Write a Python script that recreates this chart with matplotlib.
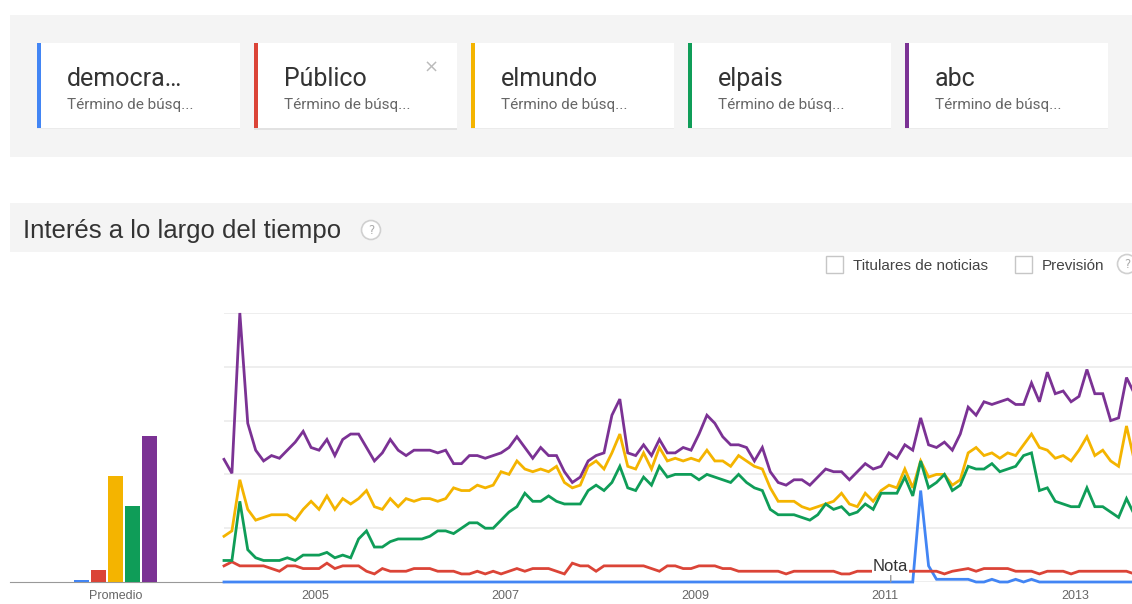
import numpy as np
import matplotlib
matplotlib.use("Agg")
import matplotlib.pyplot as plt
from matplotlib.patches import Rectangle, Circle

# search terms and colours
terms = ["democra…", "Público", "elmundo", "elpais", "abc"]
colors = ["#4285f4", "#db4437", "#f4b400", "#0f9d58", "#7b3294"]
subtitle = "Término de búsq..."

# averages (Promedio)
averages = [0.6, 4.5, 39.4, 28.3, 54.3]

# monthly interest, Jan 2004 onwards
democra = [0] * 88 + [34, 6, 1, 1, 1, 1, 1, 0, 0, 1, 0, 0, 1, 0, 1, 0] + [0] * 12
publico = [6, 7.5, 6, 6, 6, 6, 5, 4, 6, 6, 5, 5, 5, 7, 5, 6, 6, 6, 4, 3, 5, 4, 4, 4,
           5, 5, 5, 4, 4, 4, 3, 3, 4, 3, 4, 3, 4, 5, 4, 5, 5, 5, 4, 3, 7, 6, 6, 4,
           6, 6, 6, 6, 6, 6, 5, 4, 6, 6, 5, 5, 6, 6, 6, 5, 5, 4, 4, 4, 4, 4, 4, 3,
           4, 4, 4, 4, 4, 4, 3, 3, 4, 4, 4, 4, 4, 4, 4, 4, 4, 4, 4, 3, 4, 4.5, 5, 4,
           5, 5, 5, 5, 4, 4, 4, 3, 4, 4, 4, 3, 4, 4, 4, 4, 4, 4, 4, 3]
elmundo = [17, 19, 38, 27, 23, 24, 25, 25, 25, 23, 27, 30, 27, 32, 27, 31, 29, 31, 34, 28, 27, 31, 28, 31,
           30, 31, 31, 30, 31, 35, 34, 34, 36, 35, 36, 41, 40, 45, 42, 41, 42, 41, 43, 37, 35, 36, 43, 45,
           42, 48, 55, 43, 42, 48, 42, 50, 45, 46, 45, 46, 45, 49, 45, 45, 43, 47, 45, 43, 42, 35, 30, 30,
           30, 28, 27, 28, 29, 30, 33, 29, 28, 33, 30, 34, 36, 35, 42, 35, 45, 39, 40, 40, 36, 38, 48, 50,
           47, 48, 46, 48, 47, 51, 55, 50, 49, 46, 47, 45, 49, 54, 47, 49, 45, 43, 58, 45]
elpais = [8, 8, 30, 12, 9, 8, 8, 8, 9, 8, 10, 10, 10, 11, 9, 10, 9, 16, 19, 13, 13, 15, 16, 16,
          16, 16, 17, 19, 19, 18, 20, 22, 22, 20, 20, 23, 26, 28, 33, 30, 30, 32, 30, 29, 29, 29, 34, 36,
          34, 37, 43, 35, 34, 39, 36, 43, 39, 40, 40, 40, 38, 40, 39, 38, 37, 40, 37, 35, 34, 27, 25, 25,
          25, 24, 23, 25, 29, 27, 28, 25, 26, 29, 27, 33, 33, 33, 39, 32, 45, 35, 37, 40, 34, 36, 43, 42,
          42, 44, 41, 42, 43, 47, 48, 34, 35, 30, 29, 28, 28, 35, 28, 28, 26, 24, 31, 25]
abc = [45.6, 40.4, 100, 59, 49, 45, 47, 46, 49, 52, 56, 50, 49, 53, 47, 53, 55, 55, 50, 45, 48, 53, 49, 47,
       49, 49, 49, 48, 49, 44, 44, 47, 47, 46, 47, 48, 50, 54, 50, 46, 50, 47, 47, 41, 37, 39, 45, 47,
       48, 62, 68, 48, 47, 51, 47, 53, 48, 48, 50, 49, 55, 62, 59, 54, 51, 51, 50, 45, 50, 41, 37, 36,
       38, 38, 36, 39, 42, 41, 41, 38, 41, 44, 42, 43, 48, 46, 51, 49, 61, 51, 50, 52, 49, 55, 65, 62,
       67, 66, 67, 68, 66, 66, 74, 67, 78, 70, 71, 67, 69, 79, 70, 70, 60, 61, 76, 70]
series = [democra, publico, elmundo, elpais, abc]

years = [2005, 2007, 2009, 2011, 2013]
months = 2004 + (np.arange(len(abc)) + 0.5) / 12

W, H = 1132, 604
fig = plt.figure(figsize=(W / 100, H / 100), dpi=100)

# page furniture drawn in pixel coordinates
bg = fig.add_axes([0, 0, 1, 1])
bg.set_xlim(0, W)
bg.set_ylim(H, 0)
bg.axis("off")

bg.add_patch(Rectangle((10, 15), W - 10, 142, color="#f4f4f4", lw=0))
for k, (term, col) in enumerate(zip(terms, colors)):
    left = 37 + k * 217
    off = 1.5 if k == 1 else 1.0
    bg.add_patch(Rectangle((left, 43 + off), 203, 85, color="#e2e2e2" if k == 1 else "#ebebeb", lw=0))
    bg.add_patch(Rectangle((left, 43), 203, 85, color="white", lw=0))
    bg.add_patch(Rectangle((left, 43), 4, 85, color=col, lw=0))
    bg.text(left + 30, 79, term, fontsize=18, family="Roboto", color="#333333", va="center")
    bg.text(left + 30, 104.5, subtitle, fontsize=11, family="Roboto", color="#666666", va="center")
    if k == 1:
        bg.text(left + 177, 68, "×", fontsize=13, color="#bbbbbb", ha="center", va="center")

bg.add_patch(Rectangle((10, 203), W - 10, 49, color="#f4f4f4", lw=0))
bg.text(23, 231, "Interés a lo largo del tiempo", fontsize=18.5, family="Liberation Sans",
        color="#333333", va="center")


def help_icon(x, y):
    bg.add_patch(Circle((x, y), 9.5, facecolor="white", edgecolor="#d0d0d0", lw=1.2))
    bg.text(x, y + 0.5, "?", fontsize=8.5, color="#aaaaaa", ha="center", va="center")


help_icon(371, 230)
for bx, label in [(826, "Titulares de noticias"), (1015, "Previsión")]:
    bg.add_patch(Rectangle((bx, 256), 17, 17, facecolor="white", edgecolor="#c6c6c6", lw=1))
    bg.text(bx + 27, 265.5, label, fontsize=11, family="Liberation Sans", color="#444444", va="center")
help_icon(1127, 264)

# average bars
axb = fig.add_axes([10 / W, (H - 582) / H, 214 / W, 269 / H])
axb.set_facecolor("none")
pos = np.arange(len(averages))
axb.bar(pos, averages, width=0.88, color=colors, zorder=3)
axb.set_xlim(2 - 6.206, 2 - 6.206 + 214 / 17)
axb.set_ylim(0, 100)
for s in ["top", "right", "left"]:
    axb.spines[s].set_visible(False)
axb.spines["bottom"].set_color("#999999")
axb.set_yticks([])
axb.set_xticks([2])
axb.set_xticklabels(["Promedio"], fontsize=9, color="#666666", family="Liberation Sans")
axb.tick_params(axis="x", length=0, pad=6)

# interest over time
ax = fig.add_axes([224 / W, (H - 582) / H, 908 / W, 269 / H])
ax.set_facecolor("none")
x0 = months[0]
ax.set_xlim(x0, x0 + 908 / 95)
ax.set_ylim(0, 100)
ax.set_yticks([0, 20, 40, 60, 80, 100])
ax.set_yticklabels([])
ax.grid(axis="y", color="#ebebeb", lw=1.2)
ax.tick_params(axis="y", length=0)
for s in ax.spines.values():
    s.set_visible(False)
ax.set_xticks(years)
ax.set_xticklabels([str(y) for y in years], fontsize=9, color="#666666", family="Liberation Sans")
ax.tick_params(axis="x", length=0, pad=6)

for vals, col in zip(series, colors):
    ax.plot(months, vals, color=col, lw=2.0, clip_on=False, zorder=3,
            solid_joinstyle="miter")

ax.annotate("Nota", xy=(2011.06, 0), xytext=(2011.06, 5.6), ha="center", va="center",
            fontsize=12, color="#333333", family="Liberation Sans", zorder=5,
            bbox=dict(boxstyle="square,pad=0.05", fc="white", ec="none"),
            arrowprops=dict(arrowstyle="-", color="#999999", lw=1, shrinkA=0, shrinkB=0))

fig.savefig("out.png", dpi=100)
